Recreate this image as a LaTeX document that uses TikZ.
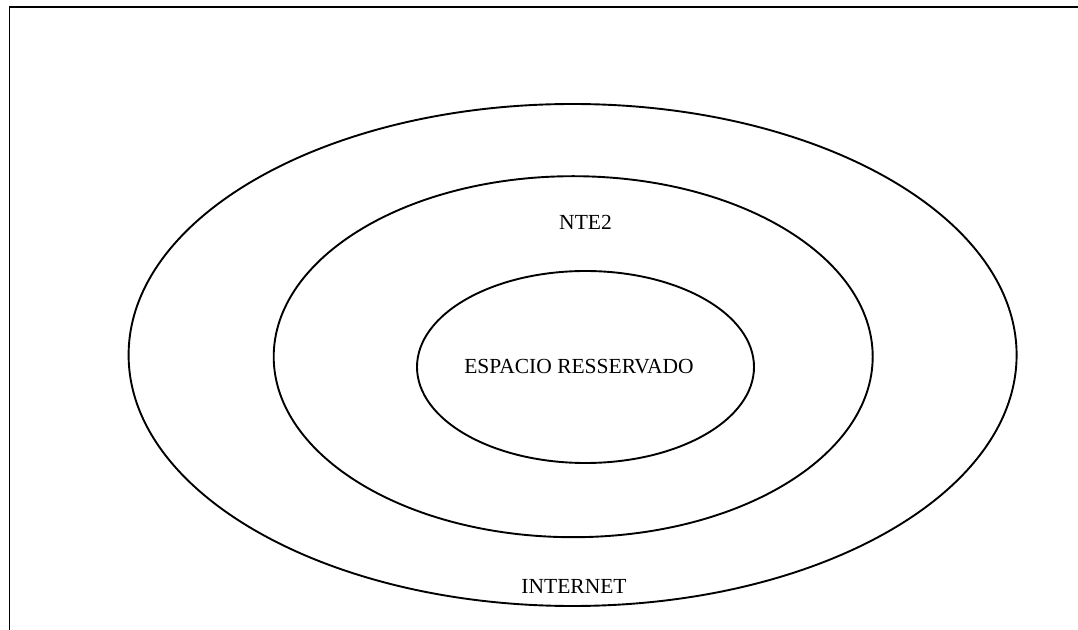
\documentclass[tikz,border=0pt]{standalone}
\usepackage{fontspec}
\setmainfont{Liberation Serif}
\usetikzlibrary{shapes.geometric}
\begin{document}
\begin{tikzpicture}[x=1pt,y=1pt,
  ring/.style={draw=black, line width=1.9pt, ellipse, inner sep=0pt},
  lbl/.style={font=\fontsize{21.5}{25}\selectfont, inner sep=0pt, anchor=base}]
\useasboundingbox (0,0) rectangle (1078,629);
\clip (0,0) rectangle (1078,629);
\draw[line width=1.8pt] (9.5,-20) |- (1100,622.3);
\node[ring, minimum width=888pt, minimum height=502pt] (internet) at (572.6,274) {};
\node[ring, minimum width=599pt, minimum height=361pt] (nte) at (573.2,272.3) {};
\node[ring, minimum width=337pt, minimum height=192pt] (esp) at (585.5,262) {};
\node[lbl] (tnte) at (585.5,399) {NTE2};
\node[lbl] (tesp) at (579,255) {ESPACIO RESSERVADO};
\node[lbl] (tint) at (574,36) {INTERNET};
\end{tikzpicture}
\end{document}
